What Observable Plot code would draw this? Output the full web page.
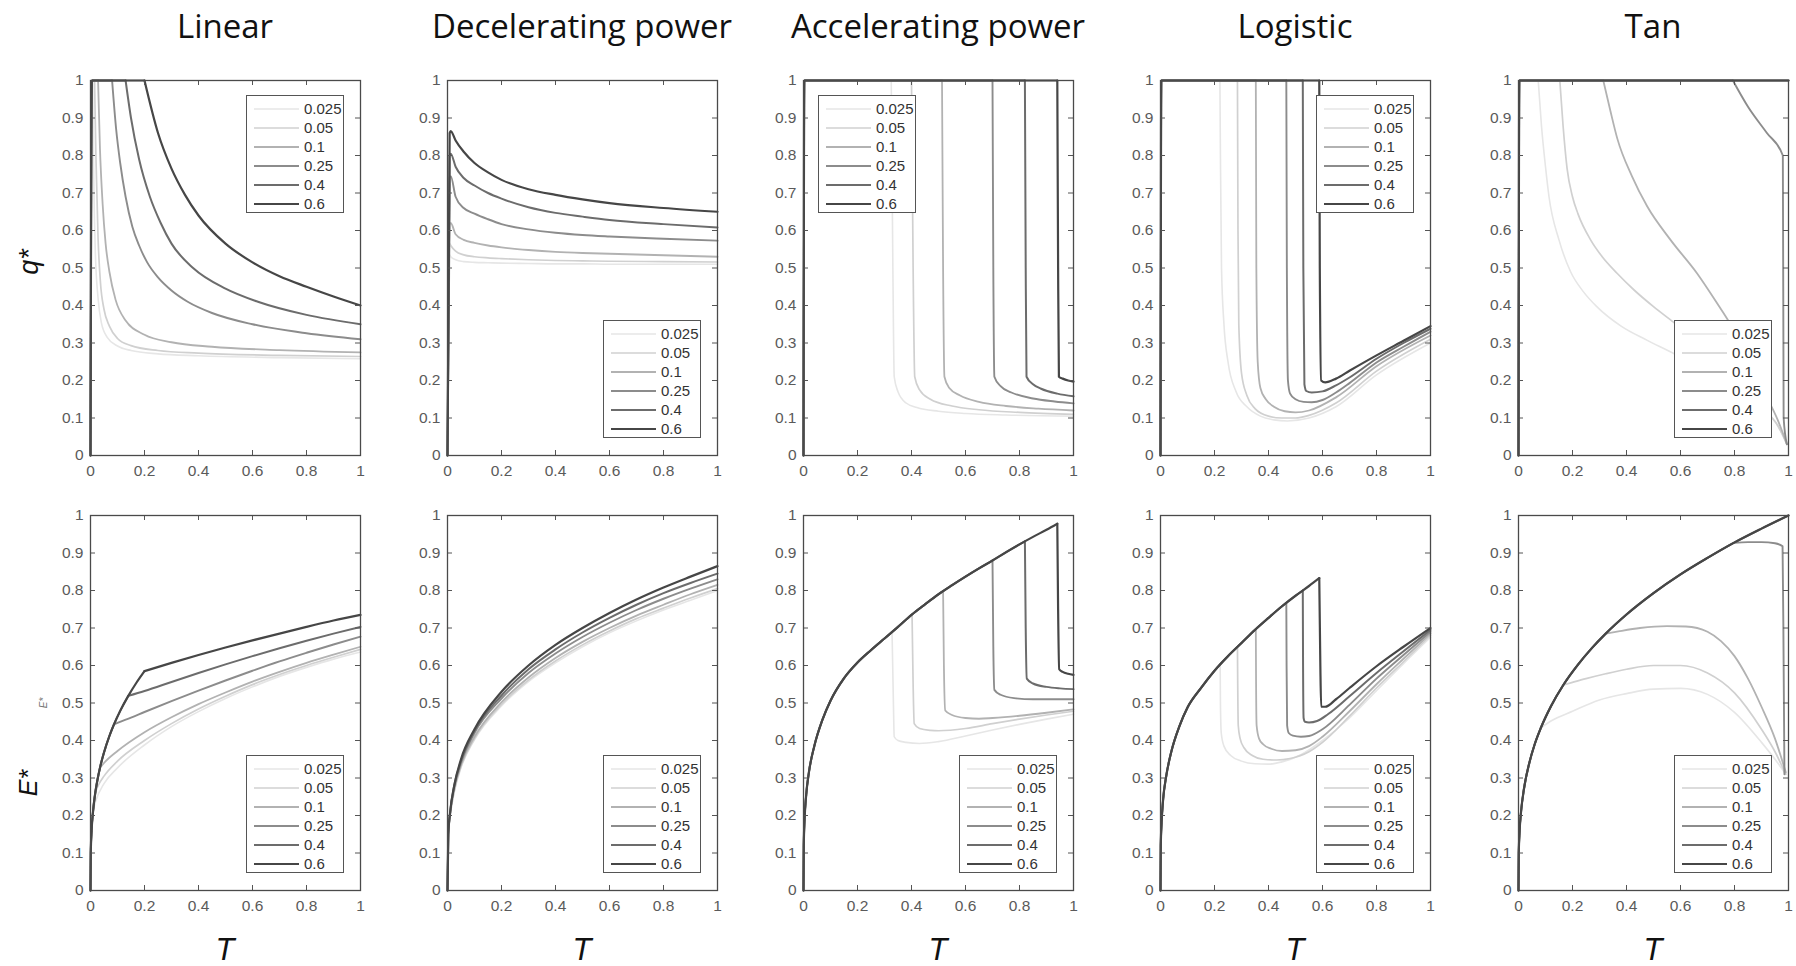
<!DOCTYPE html>
<html><head><meta charset="utf-8">
<script src="https://cdn.jsdelivr.net/npm/d3@7"></script>
<script src="https://cdn.jsdelivr.net/npm/@observablehq/plot@0.6"></script>
<style>
body{margin:0;background:#fff;}
#root{position:relative;width:1796px;height:966px;overflow:hidden;background:#fff;font-family:"Liberation Sans",Arial,sans-serif;}
.panel{position:absolute;}
.title{position:absolute;font-family:"Open Sans",sans-serif;font-size:33px;color:#111;transform:translate(-50%,-50%);white-space:nowrap;}
.lab{position:absolute;transform:translate(-50%,-50%);white-space:nowrap;font-family:"Liberation Sans",Arial,sans-serif;font-style:italic;color:#111;}
.legend{position:absolute;background:#fff;border:1.3px solid #555;width:98px;height:118px;box-sizing:border-box;}
.legend svg{position:absolute;left:0;top:0;}
</style></head><body><div id="root"></div>
<script>
// ---------------- data ----------------
const seriesLabels = ["0.025","0.05","0.1","0.25","0.4","0.6"];
const seriesGreys = ["#e6e6e6","#d0d0d0","#b2b2b2","#8c8c8c","#6c6c6c","#464646"];
const seriesWidths = [1.6,1.7,1.8,1.9,2.0,2.2];
const panelTitles = ["Linear","Decelerating power","Accelerating power","Logistic","Tan"];
const yTickValues = [0,0.1,0.2,0.3,0.4,0.5,0.6,0.7,0.8,0.9,1];
const yTickLabels = ["0","0.1","0.2","0.3","0.4","0.5","0.6","0.7","0.8","0.9","1"];
const xTickValues = [0,0.2,0.4,0.6,0.8,1];
const xTickLabels = ["0","0.2","0.4","0.6","0.8","1"];

// Row 1: q*
const linearQ = [
 [[0,0],[0.003,1],[0.008,1],[0.012,0.74],[0.018,0.54],[0.028,0.42],[0.04,0.355],[0.062,0.315],[0.1,0.292],[0.15,0.28],[0.25,0.271],[0.4,0.266],[0.7,0.261],[1,0.258]],
 [[0,0],[0.004,1],[0.015,1],[0.02,0.8],[0.028,0.58],[0.037,0.46],[0.05,0.39],[0.07,0.345],[0.1,0.312],[0.15,0.293],[0.25,0.28],[0.4,0.273],[0.7,0.267],[1,0.264]],
 [[0,0],[0.005,1],[0.028,1],[0.035,0.82],[0.045,0.67],[0.056,0.565],[0.07,0.49],[0.093,0.415],[0.13,0.36],[0.2,0.322],[0.3,0.302],[0.45,0.29],[0.7,0.281],[1,0.275]],
 [[0,0],[0.005,1],[0.08,1],[0.095,0.87],[0.11,0.78],[0.13,0.69],[0.155,0.61],[0.18,0.56],[0.21,0.515],[0.25,0.475],[0.3,0.44],[0.36,0.41],[0.45,0.38],[0.6,0.35],[0.8,0.326],[1,0.31]],
 [[0,0],[0.005,1],[0.13,1],[0.15,0.9],[0.18,0.79],[0.22,0.69],[0.26,0.62],[0.3,0.565],[0.38,0.5],[0.5,0.445],[0.62,0.41],[0.8,0.375],[1,0.35]],
 [[0,0],[0.005,1],[0.2,1],[0.25,0.86],[0.3,0.765],[0.35,0.695],[0.4,0.64],[0.5,0.565],[0.6,0.515],[0.7,0.478],[0.8,0.45],[0.9,0.424],[1,0.40]]
];
const decelQT = [0,0.008,0.012,0.03,0.06,0.1,0.15,0.2,0.3,0.4,0.5,0.6,0.8,1];
const decelQValues = [
 [0,0.535,0.53,0.522,0.517,0.515,0.514,0.513,0.512,0.511,0.511,0.51,0.51,0.51],
 [0,0.565,0.56,0.545,0.535,0.53,0.527,0.525,0.522,0.52,0.519,0.518,0.517,0.516],
 [0,0.615,0.62,0.59,0.575,0.567,0.56,0.555,0.548,0.543,0.54,0.538,0.534,0.53],
 [0,0.74,0.745,0.69,0.66,0.645,0.63,0.617,0.603,0.594,0.588,0.584,0.578,0.573],
 [0,0.80,0.805,0.77,0.74,0.72,0.70,0.685,0.662,0.647,0.637,0.628,0.617,0.608],
 [0,0.86,0.865,0.84,0.81,0.78,0.755,0.735,0.71,0.695,0.683,0.673,0.66,0.65]
];
const accelQ = [
 [[0,0],[0.003,1],[0.325,1],[0.331,0.5],[0.336,0.21],[0.35,0.17],[0.38,0.14],[0.42,0.128],[0.5,0.118],[0.6,0.112],[0.75,0.108],[1,0.105]],
 [[0,0],[0.003,1],[0.40,1],[0.406,0.5],[0.412,0.21],[0.43,0.175],[0.47,0.15],[0.55,0.132],[0.65,0.122],[0.8,0.115],[1,0.11]],
 [[0,0],[0.003,1],[0.513,1],[0.517,0.5],[0.522,0.21],[0.54,0.18],[0.58,0.16],[0.65,0.143],[0.75,0.132],[0.87,0.125],[1,0.12]],
 [[0,0],[0.003,1],[0.70,1],[0.703,0.5],[0.707,0.21],[0.73,0.185],[0.77,0.168],[0.85,0.152],[0.93,0.144],[1,0.139]],
 [[0,0],[0.003,1],[0.82,1],[0.823,0.5],[0.826,0.21],[0.85,0.19],[0.88,0.178],[0.94,0.165],[1,0.158]],
 [[0,0],[0.003,1],[0.94,1],[0.943,0.5],[0.946,0.21],[0.96,0.205],[0.98,0.2],[1,0.197]]
];
const logisticQ = [
 [[0,0],[0.003,1],[0.22,1],[0.222,0.8],[0.226,0.5],[0.235,0.35],[0.25,0.25],[0.28,0.17],[0.32,0.13],[0.37,0.105],[0.42,0.095],[0.47,0.092],[0.55,0.1],[0.65,0.13],[0.8,0.215],[1,0.30]],
 [[0,0],[0.003,1],[0.285,1],[0.287,0.6],[0.29,0.35],[0.3,0.22],[0.32,0.16],[0.35,0.125],[0.4,0.105],[0.45,0.1],[0.5,0.1],[0.55,0.107],[0.65,0.14],[0.8,0.225],[1,0.31]],
 [[0,0],[0.003,1],[0.353,1],[0.355,0.5],[0.36,0.25],[0.37,0.18],[0.39,0.15],[0.42,0.13],[0.46,0.118],[0.5,0.115],[0.55,0.12],[0.65,0.155],[0.8,0.238],[1,0.32]],
 [[0,0],[0.003,1],[0.466,1],[0.468,0.5],[0.472,0.2],[0.48,0.165],[0.5,0.15],[0.53,0.143],[0.56,0.142],[0.6,0.148],[0.65,0.168],[0.7,0.193],[0.8,0.248],[0.9,0.29],[1,0.33]],
 [[0,0],[0.003,1],[0.527,1],[0.529,0.5],[0.533,0.19],[0.54,0.172],[0.56,0.168],[0.6,0.171],[0.65,0.187],[0.7,0.208],[0.8,0.258],[0.9,0.3],[1,0.338]],
 [[0,0],[0.003,1],[0.588,1],[0.59,0.5],[0.595,0.2],[0.61,0.195],[0.65,0.205],[0.7,0.226],[0.8,0.267],[0.9,0.306],[1,0.345]]
];
const tanQ = [
 [[0,0],[0.003,1],[0.073,1],[0.085,0.88],[0.1,0.77],[0.113,0.69],[0.15,0.575],[0.193,0.49],[0.24,0.437],[0.29,0.397],[0.38,0.345],[0.477,0.307],[0.58,0.27],[0.7,0.22],[0.8,0.17],[0.9,0.12],[0.96,0.08],[0.994,0.03]],
 [[0,0],[0.003,1],[0.153,1],[0.165,0.88],[0.18,0.765],[0.2,0.69],[0.22,0.645],[0.267,0.575],[0.31,0.53],[0.365,0.486],[0.43,0.44],[0.5,0.397],[0.575,0.355],[0.7,0.28],[0.8,0.21],[0.9,0.13],[0.96,0.08],[0.994,0.03]],
 [[0,0],[0.003,1],[0.314,1],[0.34,0.92],[0.366,0.845],[0.42,0.745],[0.477,0.664],[0.563,0.575],[0.661,0.486],[0.741,0.4],[0.775,0.362],[0.85,0.26],[0.92,0.155],[0.96,0.095],[0.994,0.03]],
 [[0,0],[0.003,1],[0.794,1],[0.85,0.93],[0.92,0.86],[0.979,0.80],[0.982,0.1],[0.994,0.03]],
 [[0,0],[0.003,1],[1,1]],
 [[0,0],[0.003,1],[1,1]]
];

// Row 2: E*  (shared rising envelope + per-series branch)
const linearEEnvelope = [[0,0],[0.001,0.1],[0.004,0.159],[0.01,0.215],[0.018,0.262],[0.025,0.292],[0.035,0.327],[0.05,0.368],[0.07,0.412],[0.087,0.443],[0.11,0.479],[0.14,0.519],[0.17,0.554],[0.2,0.585]];
const linearEBranches = [
 [[0.01,0.215],[0.02,0.24],[0.05,0.285],[0.1,0.327],[0.2,0.388],[0.3,0.437],[0.4,0.477],[0.5,0.512],[0.6,0.543],[0.7,0.571],[0.8,0.595],[0.9,0.617],[1,0.636]],
 [[0.018,0.262],[0.03,0.282],[0.05,0.305],[0.1,0.345],[0.2,0.4],[0.3,0.445],[0.4,0.484],[0.5,0.518],[0.6,0.549],[0.7,0.576],[0.8,0.6],[0.9,0.622],[1,0.643]],
 [[0.035,0.327],[0.05,0.34],[0.1,0.372],[0.2,0.422],[0.3,0.462],[0.4,0.497],[0.5,0.528],[0.6,0.557],[0.7,0.583],[0.8,0.607],[0.9,0.629],[1,0.65]],
 [[0.087,0.443],[0.1,0.447],[0.15,0.461],[0.2,0.476],[0.3,0.505],[0.4,0.533],[0.5,0.56],[0.6,0.586],[0.7,0.611],[0.8,0.634],[0.9,0.656],[1,0.677]],
 [[0.14,0.519],[0.2,0.532],[0.3,0.556],[0.4,0.58],[0.5,0.603],[0.6,0.625],[0.7,0.646],[0.8,0.666],[0.9,0.685],[1,0.703]],
 [[0.2,0.585],[0.3,0.607],[0.4,0.628],[0.5,0.648],[0.6,0.667],[0.7,0.685],[0.8,0.703],[0.9,0.72],[1,0.735]]
];
const decelET = [0,0.003,0.01,0.025,0.05,0.1,0.2,0.3,0.4,0.5,0.6,0.7,0.8,0.9,1];
const decelEValues = [
 [0,0.15,0.2,0.262,0.327,0.402,0.492,0.557,0.607,0.65,0.687,0.719,0.748,0.774,0.80],
 [0,0.15,0.2,0.265,0.33,0.405,0.496,0.561,0.612,0.655,0.692,0.725,0.753,0.78,0.805],
 [0,0.15,0.205,0.27,0.335,0.41,0.502,0.568,0.62,0.663,0.7,0.733,0.762,0.79,0.815],
 [0,0.15,0.21,0.275,0.34,0.42,0.512,0.58,0.632,0.676,0.714,0.748,0.778,0.805,0.83],
 [0,0.15,0.21,0.28,0.345,0.425,0.52,0.59,0.643,0.688,0.727,0.762,0.793,0.82,0.845],
 [0,0.15,0.21,0.28,0.35,0.43,0.53,0.6,0.655,0.7,0.74,0.776,0.808,0.837,0.865]
];
const accelEEnvelope = [[0,0],[0.001,0.12],[0.004,0.19],[0.01,0.255],[0.02,0.315],[0.04,0.385],[0.07,0.455],[0.1,0.506],[0.15,0.566],[0.2,0.608],[0.25,0.641],[0.3,0.672],[0.35,0.703],[0.4,0.735],[0.45,0.763],[0.5,0.79],[0.55,0.814],[0.6,0.837],[0.65,0.859],[0.7,0.88],[0.75,0.902],[0.8,0.923],[0.85,0.943],[0.9,0.962],[0.94,0.978]];
const accelEBranches = [
 [[0.328,0.689],[0.333,0.5],[0.336,0.41],[0.35,0.4],[0.38,0.395],[0.43,0.392],[0.5,0.397],[0.6,0.412],[0.7,0.428],[0.8,0.443],[0.9,0.457],[1,0.47]],
 [[0.402,0.736],[0.406,0.55],[0.41,0.445],[0.43,0.432],[0.47,0.427],[0.5,0.426],[0.6,0.432],[0.7,0.445],[0.8,0.457],[0.9,0.468],[1,0.478]],
 [[0.517,0.798],[0.52,0.6],[0.525,0.48],[0.55,0.468],[0.6,0.46],[0.65,0.458],[0.7,0.46],[0.8,0.466],[0.9,0.474],[1,0.483]],
 [[0.70,0.88],[0.703,0.65],[0.707,0.535],[0.73,0.522],[0.78,0.513],[0.85,0.51],[0.92,0.51],[1,0.51]],
 [[0.82,0.931],[0.823,0.7],[0.827,0.565],[0.85,0.552],[0.9,0.543],[0.95,0.539],[1,0.537]],
 [[0.94,0.978],[0.943,0.75],[0.947,0.59],[0.96,0.583],[0.98,0.578],[1,0.575]]
];
const logisticEEnvelope = [[0,0],[0.001,0.12],[0.004,0.18],[0.01,0.245],[0.02,0.3],[0.04,0.37],[0.07,0.438],[0.1,0.488],[0.15,0.54],[0.2,0.586],[0.25,0.625],[0.3,0.66],[0.35,0.695],[0.4,0.727],[0.45,0.758],[0.5,0.786],[0.55,0.812],[0.588,0.833]];
const logisticEBranches = [
 [[0.221,0.602],[0.222,0.5],[0.225,0.42],[0.235,0.385],[0.26,0.36],[0.3,0.345],[0.35,0.338],[0.4,0.337],[0.45,0.343],[0.52,0.362],[0.6,0.4],[0.7,0.46],[0.8,0.533],[0.9,0.605],[1,0.675]],
 [[0.285,0.65],[0.286,0.55],[0.288,0.44],[0.295,0.405],[0.31,0.38],[0.34,0.36],[0.38,0.35],[0.43,0.348],[0.48,0.352],[0.55,0.37],[0.6,0.395],[0.7,0.465],[0.8,0.54],[0.9,0.61],[1,0.68]],
 [[0.353,0.697],[0.354,0.55],[0.356,0.44],[0.365,0.405],[0.38,0.39],[0.41,0.378],[0.45,0.372],[0.5,0.374],[0.55,0.385],[0.6,0.41],[0.7,0.478],[0.8,0.55],[0.9,0.618],[1,0.685]],
 [[0.466,0.767],[0.467,0.6],[0.469,0.44],[0.475,0.42],[0.49,0.413],[0.52,0.41],[0.55,0.412],[0.6,0.43],[0.7,0.495],[0.8,0.565],[0.9,0.628],[1,0.69]],
 [[0.527,0.80],[0.528,0.6],[0.53,0.46],[0.535,0.45],[0.55,0.448],[0.58,0.452],[0.62,0.47],[0.7,0.518],[0.8,0.58],[0.9,0.638],[1,0.695]],
 [[0.588,0.833],[0.592,0.6],[0.595,0.49],[0.61,0.49],[0.65,0.51],[0.7,0.54],[0.8,0.598],[0.9,0.65],[1,0.70]]
];
const tanEEnvelope = [[0,0],[0.001,0.099],[0.004,0.157],[0.01,0.214],[0.02,0.27],[0.04,0.34],[0.06,0.39],[0.083,0.434],[0.12,0.491],[0.166,0.548],[0.22,0.602],[0.27,0.645],[0.323,0.685],[0.4,0.736],[0.5,0.793],[0.6,0.843],[0.7,0.887],[0.797,0.927],[0.9,0.965],[1,1]];
const tanEBranches = [
 [[0.083,0.434],[0.12,0.452],[0.2,0.478],[0.3,0.508],[0.4,0.525],[0.5,0.537],[0.6,0.539],[0.7,0.523],[0.8,0.475],[0.9,0.395],[0.95,0.35],[0.99,0.31]],
 [[0.166,0.548],[0.2,0.555],[0.25,0.565],[0.323,0.578],[0.4,0.59],[0.5,0.6],[0.6,0.6],[0.7,0.58],[0.8,0.527],[0.9,0.43],[0.95,0.37],[0.99,0.31]],
 [[0.323,0.685],[0.37,0.691],[0.45,0.7],[0.55,0.705],[0.62,0.704],[0.7,0.69],[0.75,0.665],[0.8,0.625],[0.85,0.565],[0.9,0.49],[0.95,0.405],[0.99,0.315]],
 [[0.797,0.927],[0.85,0.929],[0.9,0.929],[0.95,0.926],[0.978,0.918],[0.982,0.6],[0.985,0.31]],
 [[1,1]],
 [[1,1]]
];

// ---------------- helpers ----------------
// each series is drawn as pieces so sharp corners stay sharp while smooth parts are smoothed
const zipSeries = (T, values) => values.map(vs => [vs.map((v, i) => [T[i], v])]);
const splitAtTop = series => series.map(pts => {
  let k = -1;
  pts.forEach((p, i) => { if (p[1] >= 1) k = i; });
  if (k <= 0 || k >= pts.length - 1) return [pts];
  return [pts.slice(0, k + 1), pts.slice(k)];
});
const withEnvelope = (env, branches) => branches.map(b => {
  const head = env.filter(p => p[0] < b[0][0]).concat([b[0]]);
  return b.length > 1 ? [head, b] : [head];
});

const topRow = [
  {series: splitAtTop(linearQ), legend: "tr"},
  {series: zipSeries(decelQT, decelQValues), legend: "br"},
  {series: splitAtTop(accelQ), legend: "tl"},
  {series: splitAtTop(logisticQ), legend: "tr"},
  {series: splitAtTop(tanQ), legend: "br"}
];
const bottomRow = [
  {series: withEnvelope(linearEEnvelope, linearEBranches), legend: "br"},
  {series: zipSeries(decelET, decelEValues), legend: "br"},
  {series: withEnvelope(accelEEnvelope, accelEBranches), legend: "br"},
  {series: withEnvelope(logisticEEnvelope, logisticEBranches), legend: "br"},
  {series: withEnvelope(tanEEnvelope, tanEBranches), legend: "br"}
];

// ---------------- layout ----------------
const root = document.getElementById("root");
const colX = [90, 447, 803, 1160, 1518];
const rowY = [80, 515];
const PW = 270, PH = 375;
const ML = 45, MR = 12, MT = 10, MB = 30;

function drawPanel(cfg, left, top) {
  const marks = [];
  cfg.series.forEach((pieces, i) => {
    pieces.forEach(pts => {
      const data = pts.map(([t, v]) => ({T: t, v, s: seriesLabels[i]}));
      marks.push(Plot.line(data, {x: "T", y: "v", curve: "monotone-x", stroke: seriesGreys[i], strokeWidth: seriesWidths[i], strokeLinejoin: "round", strokeLinecap: "round"}));
    });
  });
  marks.push(
    Plot.tickY(yTickValues, {y: d => d, stroke: "#555", insetRight: PW - 5}),
    Plot.tickY(yTickValues, {y: d => d, stroke: "#555", insetLeft: PW - 5}),
    Plot.tickX(xTickValues, {x: d => d, stroke: "#555", insetTop: PH - 5}),
    Plot.tickX(xTickValues, {x: d => d, stroke: "#555", insetBottom: PH - 5}),
    Plot.axisY({ticks: yTickValues, tickSize: 0, tickPadding: 7, tickFormat: d => yTickLabels[yTickValues.indexOf(d)], label: null}),
    Plot.axisX({ticks: xTickValues, tickSize: 0, tickPadding: 9, tickFormat: d => xTickLabels[xTickValues.indexOf(d)], label: null}),
    Plot.frame({stroke: "#4a4a4a", strokeWidth: 1.3})
  );
  const svg = Plot.plot({
    width: PW + ML + MR, height: PH + MT + MB,
    marginLeft: ML, marginRight: MR, marginTop: MT, marginBottom: MB,
    x: {domain: [0, 1]}, y: {domain: [0, 1]},
    style: {fontFamily: "'Liberation Sans', Arial, sans-serif", fontSize: "15.5px", color: "#5a5a5a", background: "white", overflow: "visible"},
    marks
  });
  svg.classList.add("panel");
  svg.style.left = (left - ML) + "px";
  svg.style.top = (top - MT) + "px";
  root.appendChild(svg);

  // legend
  const lg = document.createElement("div");
  lg.className = "legend";
  const lx = cfg.legend === "tl" ? 15 : 156;
  const ly = cfg.legend === "br" ? 240 : 15;
  lg.style.left = (left + lx) + "px";
  lg.style.top = (top + ly) + "px";
  const ns = "http://www.w3.org/2000/svg";
  const s = document.createElementNS(ns, "svg");
  s.setAttribute("width", 98); s.setAttribute("height", 118);
  seriesLabels.forEach((lab, i) => {
    const y = 13 + 19 * i;
    const ln = document.createElementNS(ns, "line");
    ln.setAttribute("x1", 7); ln.setAttribute("x2", 52);
    ln.setAttribute("y1", y); ln.setAttribute("y2", y);
    ln.setAttribute("stroke", seriesGreys[i]); ln.setAttribute("stroke-width", seriesWidths[i]);
    s.appendChild(ln);
    const tx = document.createElementNS(ns, "text");
    tx.setAttribute("x", 57); tx.setAttribute("y", y);
    tx.setAttribute("dy", "0.35em");
    tx.setAttribute("font-size", "15px");
    tx.setAttribute("font-family", "'Liberation Sans', Arial, sans-serif");
    tx.setAttribute("fill", "#333");
    tx.textContent = lab;
    s.appendChild(tx);
  });
  lg.appendChild(s);
  root.appendChild(lg);
}

topRow.forEach((cfg, c) => drawPanel(cfg, colX[c], rowY[0]));
bottomRow.forEach((cfg, c) => drawPanel(cfg, colX[c], rowY[1]));

function addDiv(cls, text, x, y, css) {
  const d = document.createElement("div");
  d.className = cls;
  d.textContent = text;
  d.style.left = x + "px"; d.style.top = y + "px";
  Object.assign(d.style, css || {});
  root.appendChild(d);
  return d;
}
panelTitles.forEach((t, c) => addDiv("title", t, colX[c] + PW / 2, 25));
colX.forEach(x => addDiv("lab", "T", x + PW / 2, 950, {fontSize: "31px"}));
addDiv("lab", "q*", 29, 262, {fontSize: "27px", transform: "translate(-50%,-50%) rotate(-90deg)"});
addDiv("lab", "E*", 28, 783, {fontSize: "25px", transform: "translate(-50%,-50%) rotate(-90deg)"});
addDiv("lab", "E*", 43, 703, {fontSize: "10px", color: "#777", transform: "translate(-50%,-50%) rotate(-90deg)"});
</script>
</body></html>
